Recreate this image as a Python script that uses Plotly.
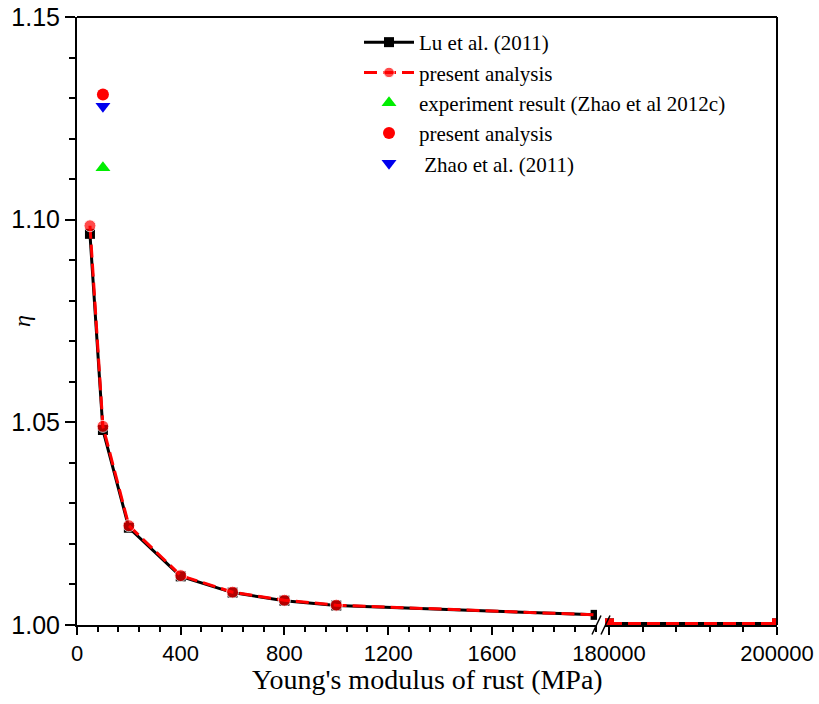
import plotly.graph_objects as go

# ---- data ----
E_left = [50, 100, 200, 400, 600, 800, 1000, 2000]
lu_left = [1.0965, 1.0481, 1.0240, 1.0120, 1.0080, 1.0060, 1.0048, 1.0025]
present_left = [1.0985, 1.0490, 1.0245, 1.0122, 1.0081, 1.0061, 1.0049, 1.0025]

E_right = [180000, 200000]
lu_right = [1.0004, 1.0004]
present_right = [1.0004, 1.0004]

E_exp = [100]
eta_exp = [1.1128]          # experiment result (Zhao et al 2012c)
eta_present_pt = [1.1309]   # present analysis
eta_zhao = [1.1280]         # Zhao et al. (2011)

x_ticks_left = [0, 400, 800, 1200, 1600]
x_ticks_right = [180000, 200000]
y_ticks = [1.00, 1.05, 1.10, 1.15]

# ---- layout geometry ----
W, H = 819, 704
ML, MR, MT, MB = 77, 42, 17, 79
PW = W - ML - MR
PH = H - MT - MB
left_end_px = 597
right_start_px = 605
dom1 = [0, (left_end_px - ML) / PW]
dom2 = [(right_start_px - ML) / PW, 1]
px_per_unit_left = 0.2593
range1 = [0, (left_end_px - ML) / px_per_unit_left]
px_right_span = 168.0  # pixels per 20000 on right segment
range2 = [180000 - (ML + PW - right_start_px - px_right_span) / px_right_span * 20000, 200000]

serif = "Liberation Serif, Times New Roman, serif"
sans = "Liberation Sans, Arial, sans-serif"

fig = go.Figure()

line_w = 3
dash = "13px,6px"

fig.add_trace(go.Scatter(
    x=E_left, y=lu_left, xaxis="x", yaxis="y", mode="lines+markers",
    name="Lu et al. (2011)", legendgroup="lu",
    line=dict(color="black", width=line_w),
    marker=dict(symbol="square", size=10, color="black"),
))
fig.add_trace(go.Scatter(
    x=E_right, y=lu_right, xaxis="x2", yaxis="y", mode="lines+markers",
    name="Lu et al. (2011)", legendgroup="lu", showlegend=False,
    line=dict(color="black", width=line_w),
    marker=dict(symbol="square", size=10, color="black"),
))
present_sizes = [12] * (len(E_left) - 1) + [0]
fig.add_trace(go.Scatter(
    x=E_left, y=present_left, xaxis="x", yaxis="y", mode="lines+markers",
    name="present analysis", legendgroup="pa",
    line=dict(color="#ff0000", width=line_w, dash=dash),
    marker=dict(symbol="circle", size=present_sizes, color="#ff0000"),
))
fig.add_trace(go.Scatter(
    x=E_right, y=present_right, xaxis="x2", yaxis="y", mode="lines+markers",
    name="present analysis", legendgroup="pa", showlegend=False,
    line=dict(color="#ff0000", width=line_w, dash=dash),
    marker=dict(symbol="square", size=10, color="#ff0000"),
))
fig.add_trace(go.Scatter(
    x=E_exp, y=eta_exp, xaxis="x", yaxis="y", mode="markers",
    name="experiment result (Zhao et al 2012c)",
    marker=dict(symbol="triangle-up", size=13, color="#00ee00"),
))
fig.add_trace(go.Scatter(
    x=E_exp, y=eta_present_pt, xaxis="x", yaxis="y", mode="markers",
    name="present analysis",
    marker=dict(symbol="circle", size=12, color="#ff0000"),
))
fig.add_trace(go.Scatter(
    x=E_exp, y=eta_zhao, xaxis="x", yaxis="y", mode="markers",
    name=" Zhao et al. (2011)",
    marker=dict(symbol="triangle-down", size=13, color="#0000ee"),
))

axis_common = dict(
    showline=True, linecolor="black", linewidth=2,
    ticks="outside", tickwidth=1.5, tickcolor="black",
    showgrid=False, zeroline=False, automargin=False,
)

fig.update_layout(
    width=W, height=H,
    margin=dict(l=ML, r=MR, t=MT, b=MB, autoexpand=False),
    paper_bgcolor="white", plot_bgcolor="white",
    showlegend=True,
    legend=dict(
        x=(359 - ML) / PW, y=(H - MB - 22) / PH, xanchor="left", yanchor="top",
        font=dict(family=serif, size=21, color="black"),
        bgcolor="rgba(0,0,0,0)", itemwidth=50, tracegroupgap=0,
    ),
    xaxis=dict(
        domain=dom1, range=range1, anchor="y",
        tickmode="array", tickvals=x_ticks_left,
        ticktext=[str(v) for v in x_ticks_left],
        tickfont=dict(family=sans, size=22, color="black"),
        ticklen=8,
        minor=dict(dtick=80, tick0=0, ticks="outside", ticklen=5, tickwidth=1.5, tickcolor="black"),
        **axis_common,
    ),
    xaxis2=dict(
        domain=dom2, range=range2, anchor="y",
        tickmode="array", tickvals=x_ticks_right,
        ticktext=[str(v) for v in x_ticks_right],
        tickfont=dict(family=sans, size=22, color="black"),
        ticklen=8,
        minor=dict(dtick=4000, tick0=180000, ticks="outside", ticklen=5, tickwidth=1.5, tickcolor="black"),
        **axis_common,
    ),
    yaxis=dict(
        domain=[0, 1], range=[1.0, 1.15], anchor="x",
        tickmode="array", tickvals=y_ticks,
        ticktext=[f"{v:.2f}" for v in y_ticks],
        tickfont=dict(family=sans, size=25, color="black"),
        ticklen=10,
        minor=dict(dtick=0.01, tick0=1.0, ticks="outside", ticklen=6, tickwidth=1.5, tickcolor="black"),
        **axis_common,
    ),
)

# frame (top and right borders)
fig.add_shape(type="line", xref="paper", yref="paper", x0=0, x1=1, y0=1, y1=1,
              line=dict(color="black", width=2))
fig.add_shape(type="line", xref="paper", yref="paper", x0=1, x1=1, y0=0, y1=1,
              line=dict(color="black", width=2))

# axis break marks (two slashes around the gap between the two x domains)
gap_c = (dom1[1] + dom2[0]) / 2
dx = 4.5 / PW
dy = 9.5 / PH
for off in (-4.5 / PW, 4.5 / PW):
    cx = gap_c + off
    fig.add_shape(type="line", xref="paper", yref="paper",
                  x0=cx - dx, x1=cx + dx, y0=-dy, y1=dy,
                  line=dict(color="black", width=1.5))

# axis titles
fig.add_annotation(text="Young's modulus of rust (MPa)", xref="paper", yref="paper",
                   x=0.5, y=-(679 - (H - MB)) / PH, xanchor="center", yanchor="middle",
                   showarrow=False, font=dict(family=serif, size=28, color="black"))
fig.add_annotation(text="<i>η</i>", xref="paper", yref="paper",
                   x=(22 - ML) / PW, y=0.5, xanchor="center", yanchor="middle",
                   textangle=-90, showarrow=False,
                   font=dict(family=serif, size=24, color="black"))

fig.write_html("out.html")
